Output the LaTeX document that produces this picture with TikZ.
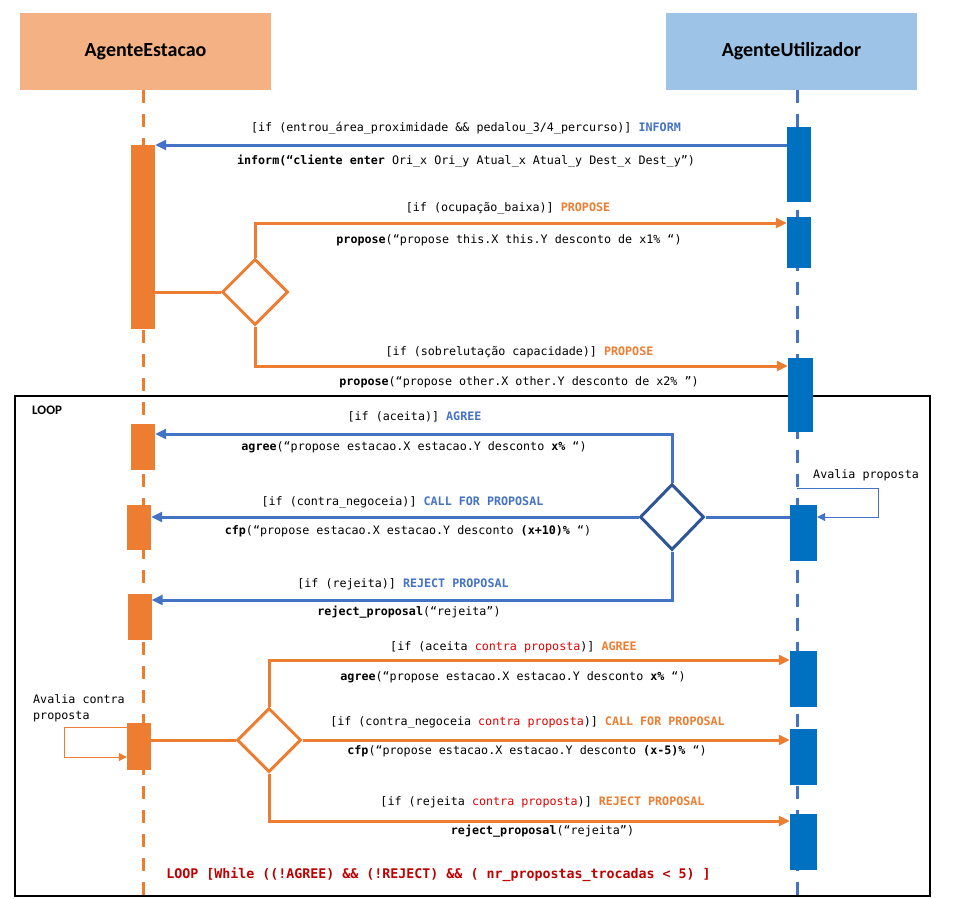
\documentclass[tikz,border=0pt]{standalone}
\usepackage{fontspec}
\setmainfont{Carlito}
\setmonofont{DejaVu Sans Mono}
\usetikzlibrary{arrows.meta,shapes.geometric}
\definecolor{orng}{HTML}{ED7D31}
\definecolor{lorng}{HTML}{F4B183}
\definecolor{lblue}{HTML}{9DC3E6}
\definecolor{ablue}{HTML}{4472C4}
\definecolor{bblue}{HTML}{0070C0}
\definecolor{dblue}{HTML}{2F5597}
\definecolor{kred}{HTML}{E00000}
\definecolor{dred}{HTML}{C00000}
\tikzset{
  actor/.style={draw=none, inner sep=0, minimum width=251pt, minimum height=77pt, font=\fontsize{20}{24}\selectfont\bfseries},
  obar/.style={fill=orng, draw=none, inner sep=0, minimum width=24pt},
  bbar/.style={fill=bblue, draw=none, inner sep=0, minimum width=24pt},
  life/.style={line width=3pt, dash pattern=on 13pt off 11pt},
  oline/.style={draw=orng, line width=3pt},
  bline/.style={draw=ablue, line width=3pt},
  oarrow/.style={oline, -{Triangle[length=11pt,width=10pt]}},
  barrow/.style={bline, -{Triangle[length=11pt,width=10pt]}},
  selfo/.style={draw=orng, line width=1pt, -{Triangle[length=8pt,width=8pt]}},
  selfb/.style={draw=ablue, line width=1pt, -{Triangle[length=8pt,width=8pt]}},
  msg/.style={font=\ttfamily\fontsize{11.7}{15}\selectfont, inner sep=0},
  decision/.style={diamond, shape aspect=1, inner sep=0, minimum width=66pt, minimum height=66pt, line width=3pt, fill=white},
}
\begin{document}
\begin{tikzpicture}[x=1pt,y=-1pt]
\useasboundingbox (0,0) rectangle (958,899);
% actors
\node[actor, fill=lorng] (AE) at (145.5,51.5) {AgenteEstacao};
\node[actor, fill=lblue] (AU) at (791.5,51.5) {AgenteUtilizador};
% lifelines
\coordinate (ELt) at (143,90); \coordinate (ELb) at (143,899);
\coordinate (ULt) at (797,90); \coordinate (ULb) at (797,899);
\draw[life, orng] (ELt) -- (ELb);
\draw[life, ablue] (ULt) -- (ULb);
% loop frame
\node[draw=black, line width=2pt, inner sep=0, minimum width=915pt, minimum height=500pt] (frame) at (472.5,646) {};
\node[font=\fontsize{13}{15}\selectfont\bfseries, anchor=west, inner sep=0] (looplbl) at (32,410) {LOOP};
% activation bars
\node[obar, minimum height=184pt] (L1) at (143,237) {};
\node[obar, minimum height=46pt] (L2) at (143,447) {};
\node[obar, minimum height=45pt] (L3) at (139,527.5) {};
\node[obar, minimum height=46pt] (L4) at (139.5,617) {};
\node[obar, minimum height=47pt] (L5) at (139,746.5) {};
\node[bbar, minimum height=75pt] (R1) at (799,164.5) {};
\node[bbar, minimum height=51pt] (R2) at (799,242.5) {};
\node[bbar, minimum width=25pt, minimum height=74pt] (R3) at (800.5,395) {};
\node[bbar, minimum width=27pt, minimum height=56pt] (R4) at (803.5,533) {};
\node[bbar, minimum width=27pt, minimum height=56pt] (R5) at (803.5,679) {};
\node[bbar, minimum width=27pt, minimum height=56pt] (R6) at (803.5,757) {};
\node[bbar, minimum width=27pt, minimum height=56pt] (R7) at (803.5,842) {};
% y levels
\coordinate (yI) at (0,145);
\coordinate (yP1) at (0,223);
\coordinate (yP2) at (0,366);
\coordinate (yA) at (0,434);
\coordinate (yR) at (0,600);
\coordinate (yA2) at (0,660);
\coordinate (yR2) at (0,821);
% INFORM
\draw[barrow] (R1.west |- yI) -- (L1.east |- yI);
\node[msg] (t1) at (466,128) {[if (entrou\_área\_proximidade \&\& pedalou\_3/4\_percurso)] \textcolor{ablue}{\textbf{INFORM}}};
\node[msg] (t2) at (466,161) {\textbf{inform(“cliente enter} Ori\_x Ori\_y Atual\_x Atual\_y Dest\_x Dest\_y”)};
% decision 1
\node[decision, draw=orng] (D1) at (255,292) {};
\draw[oline] (L1.east |- D1.west) -- (D1.west);
\draw[oarrow] (D1.north) |- (R2.west |- yP1);
\draw[oarrow] (D1.south) |- (R3.west |- yP2);
\node[msg] (t3) at (508,208) {[if (ocupação\_baixa)] \textcolor{orng}{\textbf{PROPOSE}}};
\node[msg] (t4) at (509,240) {\textbf{propose}(“propose this.X this.Y desconto de x1\% “)};
\node[msg] (t5) at (519.5,352) {[if (sobrelutação capacidade)] \textcolor{orng}{\textbf{PROPOSE}}};
\node[msg] (t6) at (519,382) {\textbf{propose}(“propose other.X other.Y desconto de x2\% ”)};
% decision 2 (blue)
\node[decision, draw=dblue, minimum width=64pt] (D2) at (672,517) {};
\draw[bline] (R4.west |- D2.east) -- (D2.east);
\draw[barrow] (D2.north) |- (L2.east |- yA);
\draw[barrow] (D2.west) -- (L3.east |- D2.west);
\draw[barrow] (D2.south) |- (L4.east |- yR);
\node[msg] (t7) at (414.5,417) {[if (aceita)] \textcolor{ablue}{\textbf{AGREE}}};
\node[msg] (t8) at (414,447) {\textbf{agree}(“propose estacao.X estacao.Y desconto \textbf{x\%} “)};
\node[msg] (t9) at (402.5,502) {[if (contra\_negoceia)] \textcolor{ablue}{\textbf{CALL FOR PROPOSAL}}};
\node[msg] (t10) at (408,531) {\textbf{cfp}(“propose estacao.X estacao.Y desconto \textbf{(x+10)\%} “)};
\node[msg] (t11) at (403,584) {[if (rejeita)] \textcolor{ablue}{\textbf{REJECT PROPOSAL}}};
\node[msg] (t12) at (409,612) {\textbf{reject\_proposal}(“rejeita”)};
% self call Avalia proposta
\coordinate (sb1) at (878,488);
\coordinate (sb2) at (878,517);
\draw[selfb] (ULt |- sb1) -- (sb1) -- (sb2) -- (R4.east |- sb2);
\node[msg, anchor=west] (t13) at (813,475) {Avalia proposta};
% decision 3 (orange)
\node[decision, draw=orng, minimum width=64pt, minimum height=64pt] (D3) at (269,740) {};
\draw[oline] (L5.east |- D3.west) -- (D3.west);
\draw[oarrow] (D3.north) |- (R5.west |- yA2);
\draw[oarrow] (D3.east) -- (R6.west |- D3.east);
\draw[oarrow] (D3.south) |- (R7.west |- yR2);
\node[msg] (t14) at (513.5,647) {[if (aceita \textcolor{kred}{contra proposta})] \textcolor{orng}{\textbf{AGREE}}};
\node[msg] (t15) at (513,677) {\textbf{agree}(“propose estacao.X estacao.Y desconto \textbf{x\%} “)};
\node[msg] (t16) at (527.5,722) {[if (contra\_negoceia \textcolor{kred}{contra proposta})] \textcolor{orng}{\textbf{CALL FOR PROPOSAL}}};
\node[msg] (t17) at (527,751) {\textbf{cfp}(“propose estacao.X estacao.Y desconto \textbf{(x-5)\%} “)};
\node[msg] (t18) at (542.5,802) {[if (rejeita \textcolor{kred}{contra proposta})] \textcolor{orng}{\textbf{REJECT PROPOSAL}}};
\node[msg] (t19) at (542.5,831) {\textbf{reject\_proposal}(“rejeita”)};
% self call Avalia contra proposta
\coordinate (so1) at (64,727);
\coordinate (so2) at (64,757);
\draw[selfo] (L5.west |- so1) -- (so1) -- (so2) -- (L5.west |- so2);
\node[msg, anchor=west, align=left, font=\ttfamily\fontsize{11.7}{16}\selectfont] (t20) at (33,708) {Avalia contra\\proposta};
% loop condition
\node[msg, font=\ttfamily\bfseries\fontsize{13.3}{16}\selectfont, text=dred] (t21) at (438.5,875) {LOOP [While ((!AGREE) \&\& (!REJECT) \&\& ( nr\_propostas\_trocadas < 5) ]};
\end{tikzpicture}
\end{document}
